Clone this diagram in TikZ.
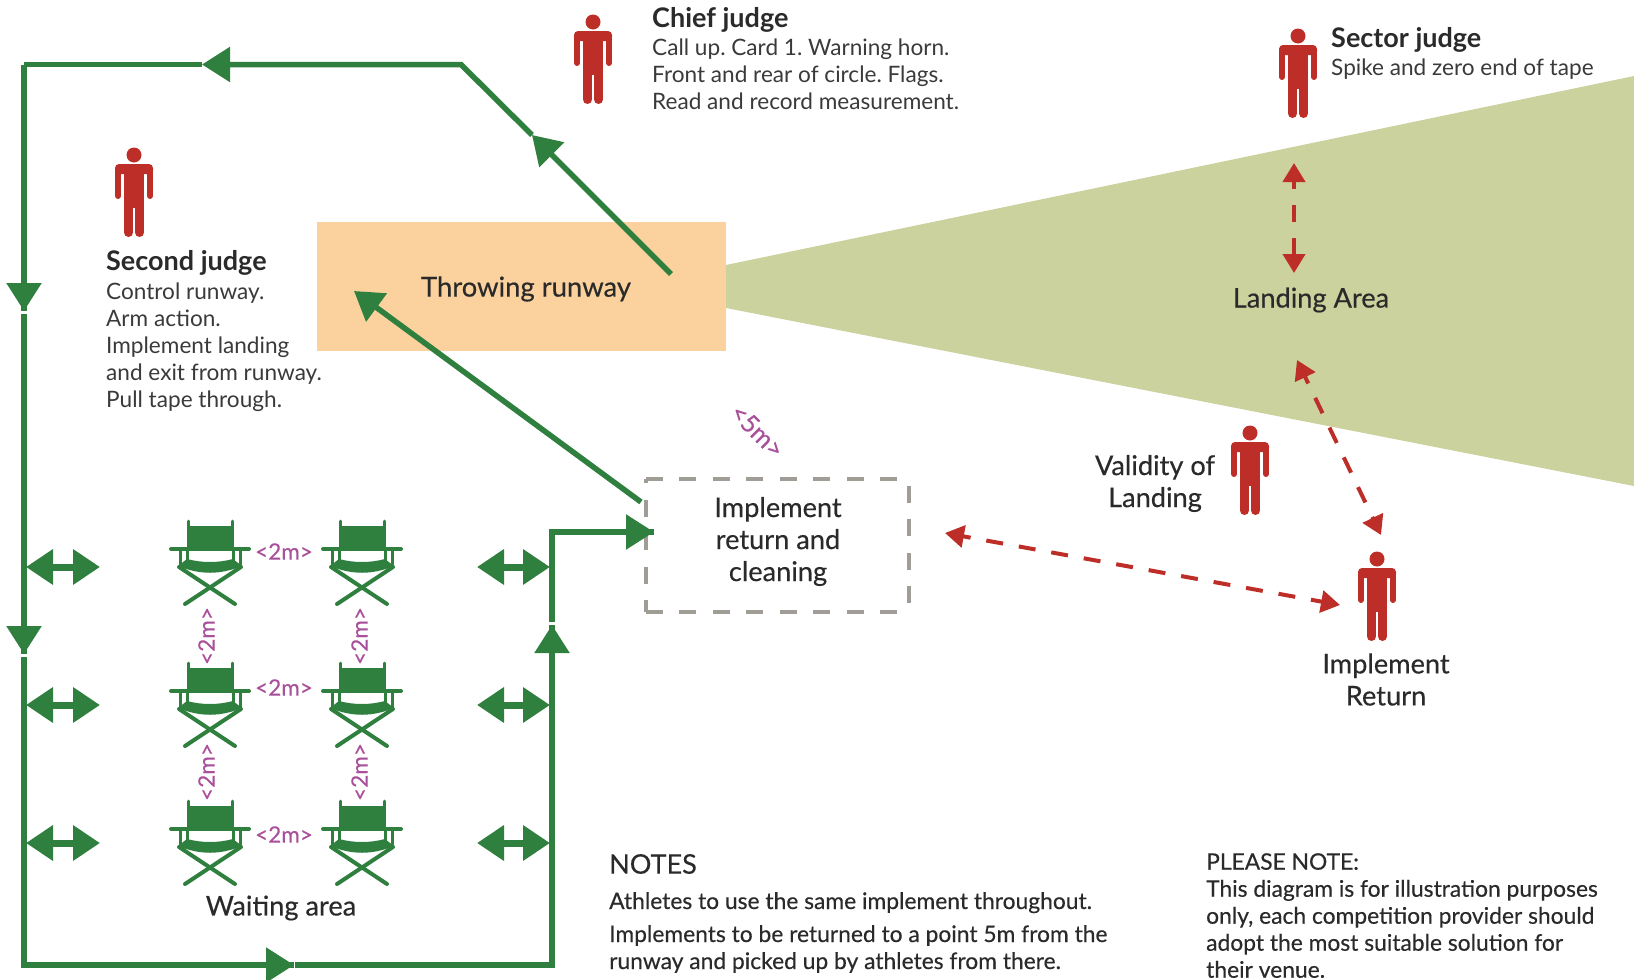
\documentclass[tikz,border=0pt]{standalone}
\usepackage{fontspec}
\setmainfont{Lato}
\newfontfamily\medfont[FakeBold=0.35]{Lato}
\usetikzlibrary{arrows.meta}
\definecolor{gr}{HTML}{2F7F3E}
\definecolor{rd}{HTML}{BE2E28}
\definecolor{pu}{HTML}{A9509B}
\definecolor{org}{HTML}{FBD19D}
\definecolor{olv}{HTML}{CBD29D}
\definecolor{tx}{HTML}{3A3A3A}
\definecolor{txd}{HTML}{2A2A2A}
\definecolor{bx}{HTML}{A09C96}
\newcommand{\fbody}{\fontsize{22.6}{27}\selectfont\frenchspacing}
\newcommand{\fnote}{\fontsize{22.8}{27}\selectfont\medfont\frenchspacing}
\newcommand{\fhead}{\fontsize{27}{30}\selectfont\bfseries}
\newcommand{\fmid}{\fontsize{27.2}{32}\selectfont\medfont}
\tikzset{
 gline/.style={draw=gr,line width=5.5pt},
 gtip/.style={gline,-{Triangle[length=28pt,width=34pt]}},
 gdbl/.style={draw=gr,line width=7pt,{Triangle[length=27pt,width=34pt]}-{Triangle[length=27pt,width=34pt]}},
 rdbl/.style={draw=rd,line width=4pt,dash pattern=on 17pt off 16pt,dash phase=9pt,{Triangle[length=19pt,width=22pt]}-{Triangle[length=19pt,width=22pt]}},
 bxside/.style={draw=bx,line width=3.5pt,dash pattern=on 17pt off 16.5pt},
 body/.style={text=tx,inner sep=0pt,align=left,anchor=north west,font=\fbody},
 notebody/.style={body,text=txd,font=\fnote},
 head/.style={text=txd,inner sep=0pt,anchor=west,font=\fhead},
 mid/.style={text=txd,inner sep=0pt,align=center,font=\fmid},
 dist/.style={text=pu,inner sep=0pt,font=\fontsize{22.5}{24}\selectfont\medfont},
 pics/personfig/.style={code={
  \fill[rd] (0,7) circle (7.5);
  \fill[rd,rounded corners=4pt] (-19,26) -- (-19,16) -- (19,16) -- (19,26) -- cycle;
  \fill[rd] (-10,20) rectangle (10,60);
  \draw[rd,line width=6pt,line cap=round] (-16,22) -- (-16,48);
  \draw[rd,line width=6pt,line cap=round] (16,22) -- (16,48);
  \draw[rd,line width=9pt,line cap=round] (-5.5,50) -- (-5.5,84.5);
  \draw[rd,line width=9pt,line cap=round] (5.5,50) -- (5.5,84.5);
 }},
 pics/chairfig/.style={code={
  \fill[gr] (-23,6) rectangle (23,28);
  \draw[gr,line width=3pt,line cap=round] (-22,1) -- (-22,28);
  \draw[gr,line width=3pt,line cap=round] (22,1) -- (22,28);
  \draw[gr,line width=4pt,line cap=round] (-39,29) -- (39,29);
  \draw[gr,line width=3pt] (-30,29) -- (-30,47);
  \draw[gr,line width=3pt] (30,29) -- (30,47);
  \draw[gr,line width=3pt] (-23,29) -- (-23,41);
  \draw[gr,line width=3pt] (23,29) -- (23,41);
  \fill[gr] (-32,46) -- (-23,39) .. controls (-8,43) and (8,43) .. (23,39) -- (32,46) .. controls (10,55) and (-10,55) .. (-32,46) -- cycle;
  \draw[gr,line width=4pt,line cap=round] (-31,47) -- (25,84);
  \draw[gr,line width=4pt,line cap=round] (31,47) -- (-25,84);
 }},
}
\begin{document}
\begin{tikzpicture}[x=1pt,y=-1pt]
\useasboundingbox (0,0) rectangle (1634,980);
% areas
\fill[olv] (726,265) -- (1634,76) -- (1634,486) -- (726,308) -- cycle;
\node[fill=org,minimum width=409pt,minimum height=129pt,inner sep=0pt] (runway) at (521.5,286.5) {};
\node[mid,font=\fontsize{27.4}{32}\selectfont\medfont] (runwaytext) at (526,289) {Throwing runway};
% coordinates
\coordinate (tl) at (24,64.5);
\coordinate (topa) at (202,64.5);
\coordinate (topb) at (230,64.5);
\coordinate (bend) at (461,64.5);
\coordinate (diag) at (532,135);
\coordinate (run1) at (671,274);
\coordinate (run2) at (641,502);
\coordinate (run3) at (354,291);
\coordinate (d1) at (24,311);
\coordinate (d1b) at (24,314);
\coordinate (d2) at (24,654);
\coordinate (d2b) at (24,657);
\coordinate (bl) at (24,965);
\coordinate (ba) at (294,965);
\coordinate (bb) at (295,965);
\coordinate (br) at (552,965);
\coordinate (ua) at (552,625);
\coordinate (ub) at (552,622);
\coordinate (uc) at (552,532);
\coordinate (ue) at (654,532);
% implement box
\node[minimum width=263pt,minimum height=133pt,inner sep=0pt] (retbox) at (777.5,545.5) {};
\draw[bxside] (retbox.south west) -- (retbox.south east);
\draw[bxside,dash phase=5pt] (retbox.south west) -- (retbox.north west);
\draw[bxside] (retbox.north west) -- (retbox.north east);
\draw[bxside,dash phase=26.5pt] (retbox.north east) -- (retbox.south east);
% green route
\draw[gline,line join=miter] (topb) -- (bend) -- (diag);
\draw[gtip] (topb) -- (topa);
\draw[gtip] (run1) -- (diag);
\draw[gtip] (run2) -- (run3);
\draw[gline] (topa) -- (tl);
\draw[gline] (tl) -- (d1);
\draw[gtip] (24,284) -- (d1);
\draw[gline] (d1b) -- (d2);
\draw[gtip] (24,626) -- (d2);
\draw[gline] (d2b) -- (bl) -- (ba);
\draw[gtip] (265,965) -- (ba);
\draw[gline] (bb) -- (br) -- (ua);
\draw[gtip] (552,654) -- (ua);
\draw[gline] (ub) -- (uc) -- (ue);
\draw[gtip] (626,532) -- (ue);
% double arrows
\foreach \n/\yy in {a/567,b/705,c/843}{
 \coordinate (dl\n) at (26,\yy); \coordinate (dr\n) at (100,\yy);
 \draw[gdbl] (dl\n) -- (dr\n);
 \coordinate (el\n) at (477,\yy); \coordinate (er\n) at (550,\yy);
 \draw[gdbl] (el\n) -- (er\n);
}
% chairs
\foreach \cx in {210,362}{\foreach \cy in {520,662,800}{
 \pic at (\cx,\cy) {chairfig};
}}
% distances
\node[dist] (h1) at (284,551.5) {<2m>};
\node[dist] (h2) at (284,687.5) {<2m>};
\node[dist] (h3) at (284,834.5) {<2m>};
\node[dist,rotate=90] (v1) at (206.5,636) {<2m>};
\node[dist,rotate=90] (v2) at (359.5,636) {<2m>};
\node[dist,rotate=90] (v3) at (206.5,772) {<2m>};
\node[dist,rotate=90] (v4) at (359.5,772) {<2m>};
\node[dist,rotate=-45,font=\fontsize{25}{26}\selectfont\medfont] (v5) at (757.5,431) {<5m>};
% red arrows
\coordinate (r1) at (1294,163); \coordinate (r2) at (1294,273);
\coordinate (r3) at (1297,360); \coordinate (r4) at (1381,535);
\coordinate (r5) at (945,533); \coordinate (r6) at (1340,605);
\draw[rdbl] (r1) -- (r2);
\draw[rdbl] (r3) -- (r4);
\draw[rdbl] (r5) -- (r6);
% persons
\pic at (593,15) {personfig};
\pic at (1298,29) {personfig};
\pic at (134,148) {personfig};
\pic at (1250,426) {personfig};
\pic at (1377,552) {personfig};
% texts
\node[head] (t1) at (652,20) {Chief judge};
\node[body] (t1b) at (652,38.5) {Call up. Card 1. Warning horn.\\Front and rear of circle. Flags.\\Read and record measurement.};
\node[head] (t2) at (1331,40) {Sector judge};
\node[body] (t2b) at (1331,58.5) {Spike and zero end of tape};
\node[head] (t3) at (106,263) {Second judge};
\node[body] (t3b) at (106,282.5) {Control runway.\\Arm action.\\Implement landing\\and exit from runway.\\Pull tape through.};
\node[mid] (t4) at (1311,300) {Landing Area};
\node[mid] (t5) at (778,541.5) {Implement\\return and\\cleaning};
\node[mid] (t6) at (1155,483.5) {Validity of\\Landing};
\node[mid] (t7) at (1386,679.5) {Implement\\Return};
\node[mid] (t8) at (281,908) {Waiting area};
\node[head,font=\fontsize{27}{30}\selectfont\medfont] (t9) at (609,864) {NOTES};
\node[notebody] (t10) at (609,892) {Athletes to use the same implement throughout.};
\node[notebody] (t11) at (609,925) {Implements to be returned to a point 5m from the\\runway and picked up by athletes from there.};
\node[notebody] (t12) at (1206,853) {PLEASE NOTE:\\This diagram is for illustration purposes\\only, each competition provider should\\adopt the most suitable solution for\\their venue.};
\end{tikzpicture}
\end{document}
